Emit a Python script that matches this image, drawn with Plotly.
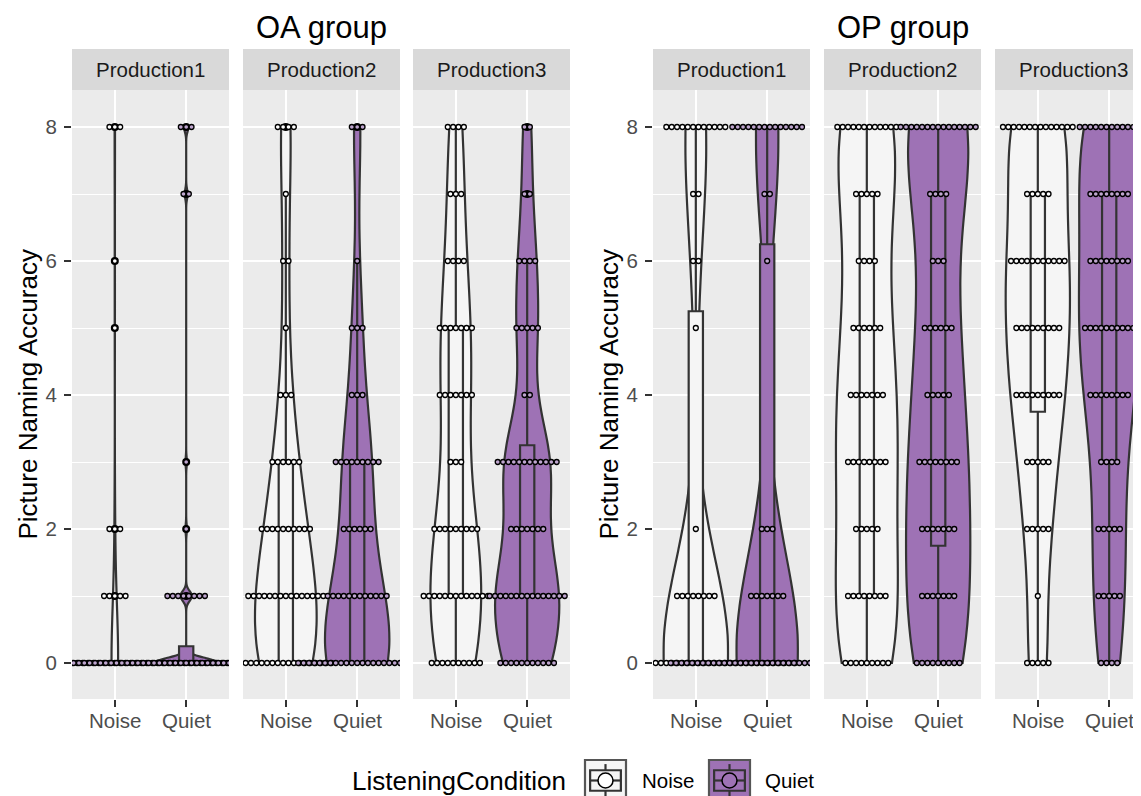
import numpy as np
import plotly.graph_objects as go

# ---------------- data (dot counts per score 0..8) ----------------
scores = [0, 1, 2, 3, 4, 5, 6, 7, 8]
conditions = ["Noise", "Quiet"]
productions = ["Production1", "Production2", "Production3"]
group_titles = ["OA group", "OP group"]
y_ticks = [0, 2, 4, 6, 8]

oa_p1_noise = [47, 5, 3, 0, 0, 1, 1, 0, 3]
oa_p1_quiet = [45, 8, 1, 1, 0, 0, 0, 2, 3]
oa_p2_noise = [18, 15, 10, 6, 3, 1, 2, 1, 4]
oa_p2_quiet = [23, 12, 6, 9, 3, 3, 1, 0, 3]
oa_p3_noise = [10, 13, 9, 3, 7, 7, 4, 3, 4]
oa_p3_quiet = [11, 15, 7, 12, 2, 5, 4, 2, 2]
op_p1_noise = [38, 8, 1, 0, 0, 1, 2, 2, 12]
op_p1_quiet = [37, 7, 3, 0, 0, 0, 1, 2, 14]
op_p2_noise = [9, 8, 5, 8, 7, 6, 4, 5, 12]
op_p2_quiet = [9, 7, 7, 8, 5, 6, 3, 4, 15]
op_p3_noise = [5, 1, 5, 5, 9, 9, 11, 5, 14]
op_p3_quiet = [4, 5, 5, 4, 8, 10, 8, 8, 12]

panel_counts = [
    (oa_p1_noise, oa_p1_quiet), (oa_p2_noise, oa_p2_quiet), (oa_p3_noise, oa_p3_quiet),
    (op_p1_noise, op_p1_quiet), (op_p2_noise, op_p2_quiet), (op_p3_noise, op_p3_quiet),
]

# ---------------- geometry / style (screen pixels) ----------------
W, H = 1141, 796
OFF = 8  # page body margin
PANEL_W = 157
PANEL_TOP, PANEL_BOTTOM = 90, 699
STRIP_TOP = 49
panel_lefts = [72, 243, 413, 653, 824, 995]
Y0_PX, PX_PER_Y = 663, 67.0
X_RANGE_FULL = (0.4, 2.6)
PX_PER_X = PANEL_W / (X_RANGE_FULL[1] - X_RANGE_FULL[0])
Y_RANGE = [(Y0_PX - PANEL_BOTTOM) / PX_PER_Y, (Y0_PX - PANEL_TOP) / PX_PER_Y]
BINWIDTH = 0.08

FONT = "Liberation Sans, Arial, sans-serif"
fills = {"Noise": "#F5F5F5", "Quiet": "#9E72B5"}
dot_fills = {"Noise": "#FFFFFF", "Quiet": "#BFA6CF"}
key_dot_fills = {"Noise": "#FFFFFF", "Quiet": "#9E72B5"}
LINE = "#333333"
LW = 2.2
TICK_FONT = dict(size=20.5, color="#4D4D4D", family=FONT)


def px2x(sx):
    return (sx - OFF) / W


def px2y(sy):
    return 1 - (sy - OFF) / H


def expand(counts):
    return np.repeat(np.array(scores, dtype=float), counts)


def bw_nrd0(x):
    hi = np.std(x, ddof=1)
    iqr = np.percentile(x, 75) - np.percentile(x, 25)
    lo = min(hi, iqr / 1.34)
    if not lo:
        lo = hi or abs(x[0]) or 1.0
    return 0.9 * lo * len(x) ** (-0.2)


fig = go.Figure()
layout = dict()
violins, boxes, outliers, dots = [], [], [], []
shapes, annotations = [], []
dot_px = BINWIDTH * PX_PER_Y
dx = dot_px / PX_PER_X

for i, pair in enumerate(panel_counts):
    k = i + 1
    xa, ya = ("x" if k == 1 else f"x{k}"), ("y" if k == 1 else f"y{k}")
    left = panel_lefts[i]
    right = min(left + PANEL_W, W + OFF)
    xr = [X_RANGE_FULL[0], X_RANGE_FULL[0] + (right - left) / PX_PER_X]
    show_y = i in (0, 3)
    layout[f"xaxis{k}" if k > 1 else "xaxis"] = dict(
        domain=[px2x(left), px2x(right)], range=xr, anchor=ya, type="linear",
        tickvals=[1, 2], showticklabels=False, ticks="outside", ticklen=7, tickwidth=2,
        tickcolor=LINE, showgrid=True, gridcolor="white", gridwidth=2.2, zeroline=False,
        showline=False, fixedrange=True,
    )
    layout[f"yaxis{k}" if k > 1 else "yaxis"] = dict(
        domain=[px2y(PANEL_BOTTOM), px2y(PANEL_TOP)], range=Y_RANGE, anchor=xa,
        tickvals=y_ticks, showticklabels=show_y, ticks="outside" if show_y else "",
        ticklen=7, tickwidth=2, tickcolor=LINE, showgrid=True, gridcolor="white", gridwidth=2.2,
        zeroline=False, showline=False, tickfont=TICK_FONT, ticklabelstandoff=3,
        minor=dict(tickvals=[1, 3, 5, 7], showgrid=True, gridcolor="white", gridwidth=1.1, ticks=""),
        fixedrange=True,
    )
    for j, cond in enumerate(conditions):
        pos = j + 1
        # x tick label
        annotations.append(dict(text=cond, xref=xa, yref="paper", x=pos, y=px2y(720),
                                showarrow=False, xanchor="center", yanchor="middle", font=TICK_FONT))
        data = expand(pair[j])
        violins.append(go.Violin(
            x=[pos] * len(data), y=data, xaxis=xa, yaxis=ya, bandwidth=bw_nrd0(data),
            spanmode="hard", scalegroup=f"panel{k}", scalemode="width", points=False,
            fillcolor=fills[cond], line=dict(color=LINE, width=LW), opacity=1,
            box_visible=False, meanline_visible=False, hoverinfo="skip", showlegend=False,
        ))
        q1, med, q3 = np.percentile(data, [25, 50, 75])
        iqr = q3 - q1
        lf = data[data >= q1 - 1.5 * iqr].min()
        uf = data[data <= q3 + 1.5 * iqr].max()
        boxes.append(go.Box(
            x=[pos], q1=[q1], median=[med], q3=[q3], lowerfence=[lf], upperfence=[uf],
            xaxis=xa, yaxis=ya, width=0.2, whiskerwidth=0, fillcolor=fills[cond],
            line=dict(color=LINE, width=LW), hoverinfo="skip", showlegend=False,
        ))
        out = np.unique(data[(data < lf) | (data > uf)])
        if len(out):
            outliers.append(go.Scatter(
                x=[pos] * len(out), y=out, xaxis=xa, yaxis=ya, mode="markers",
                marker=dict(size=8, color="black"), hoverinfo="skip", showlegend=False,
            ))
        xs, ys = [], []
        for v, n in zip(scores, pair[j]):
            for m in range(n):
                xs.append(pos + (m - (n - 1) / 2) * dx)
                ys.append(v)
        dots.append(go.Scatter(
            x=xs, y=ys, xaxis=xa, yaxis=ya, mode="markers",
            marker=dict(size=dot_px - 0.4, color=dot_fills[cond], line=dict(color="black", width=1.3)),
            hoverinfo="skip", showlegend=False,
        ))

for t in violins + boxes + outliers + dots:
    fig.add_trace(t)

# strips
for i, left in enumerate(panel_lefts):
    right = min(left + PANEL_W, W + OFF)
    shapes.append(dict(type="rect", xref="paper", yref="paper", x0=px2x(left), x1=px2x(right),
                       y0=px2y(PANEL_TOP), y1=px2y(STRIP_TOP), fillcolor="#D9D9D9", line=dict(width=0),
                       layer="below"))
    cx = left + PANEL_W / 2
    annotations.append(dict(text=productions[i % 3], xref="paper", yref="paper", x=px2x(cx),
                            y=px2y((STRIP_TOP + PANEL_TOP) / 2), showarrow=False, xanchor="center",
                            yanchor="middle", font=dict(size=20.5, color="#1A1A1A", family=FONT)))

# group titles and y titles
for g in range(2):
    lft = panel_lefts[3 * g]
    rgt = panel_lefts[3 * g + 2] + PANEL_W
    annotations.append(dict(text=group_titles[g], xref="paper", yref="paper", x=px2x((lft + rgt) / 2),
                            y=1.0, showarrow=False, xanchor="center", yanchor="top",
                            font=dict(size=31, color="black", family=FONT)))
    annotations.append(dict(text="Picture Naming Accuracy", xref="paper", yref="paper",
                            x=px2x(lft - 45), y=px2y((PANEL_TOP + PANEL_BOTTOM) / 2), textangle=-90,
                            showarrow=False, xanchor="center", yanchor="middle",
                            font=dict(size=26, color="black", family=FONT)))

# legend
LEG_Y = 780.5
KEY = 41
annotations.append(dict(text="ListeningCondition", xref="paper", yref="paper", x=px2x(568), y=px2y(LEG_Y),
                        showarrow=False, xanchor="right", yanchor="middle",
                        font=dict(size=26, color="black", family=FONT)))
key_lefts = [585, 709]
label_lefts = [640, 763]
for j, cond in enumerate(conditions):
    x0 = key_lefts[j]
    y0 = LEG_Y - KEY / 2
    shapes.append(dict(type="rect", xref="paper", yref="paper", x0=px2x(x0), x1=px2x(x0 + KEY),
                       y0=px2y(y0), y1=px2y(y0 + KEY), fillcolor=fills[cond], line=dict(color="#555555", width=LW)))
    cxk = x0 + KEY / 2
    shapes.append(dict(type="line", xref="paper", yref="paper", x0=px2x(cxk), x1=px2x(cxk),
                       y0=px2y(y0 + 0.1 * KEY), y1=px2y(y0 + 0.25 * KEY), line=dict(color=LINE, width=LW)))
    shapes.append(dict(type="line", xref="paper", yref="paper", x0=px2x(cxk), x1=px2x(cxk),
                       y0=px2y(y0 + 0.75 * KEY), y1=px2y(y0 + 0.9 * KEY), line=dict(color=LINE, width=LW)))
    shapes.append(dict(type="rect", xref="paper", yref="paper", x0=px2x(x0 + 0.125 * KEY),
                       x1=px2x(x0 + 0.875 * KEY), y0=px2y(y0 + 0.25 * KEY), y1=px2y(y0 + 0.75 * KEY),
                       fillcolor=fills[cond], line=dict(color=LINE, width=LW)))
    shapes.append(dict(type="line", xref="paper", yref="paper", x0=px2x(x0 + 0.125 * KEY),
                       x1=px2x(x0 + 0.875 * KEY), y0=px2y(LEG_Y), y1=px2y(LEG_Y),
                       line=dict(color=LINE, width=LW)))
    r = 7.5
    shapes.append(dict(type="circle", xref="paper", yref="paper", x0=px2x(cxk - r), x1=px2x(cxk + r),
                       y0=px2y(LEG_Y - r), y1=px2y(LEG_Y + r), fillcolor=key_dot_fills[cond],
                       line=dict(color="black", width=1.5)))
    annotations.append(dict(text=cond, xref="paper", yref="paper", x=px2x(label_lefts[j]), y=px2y(LEG_Y),
                            showarrow=False, xanchor="left", yanchor="middle",
                            font=dict(size=20.5, color="black", family=FONT)))

fig.update_layout(
    width=W, height=H, autosize=False, margin=dict(l=0, r=0, t=0, b=0, pad=0),
    paper_bgcolor="white", plot_bgcolor="#EBEBEB", showlegend=False,
    violinmode="overlay", violingap=0.1, violingroupgap=0, boxmode="overlay",
    shapes=shapes, annotations=annotations, font=dict(family=FONT),
    **layout,
)

fig.write_html("out.html")
